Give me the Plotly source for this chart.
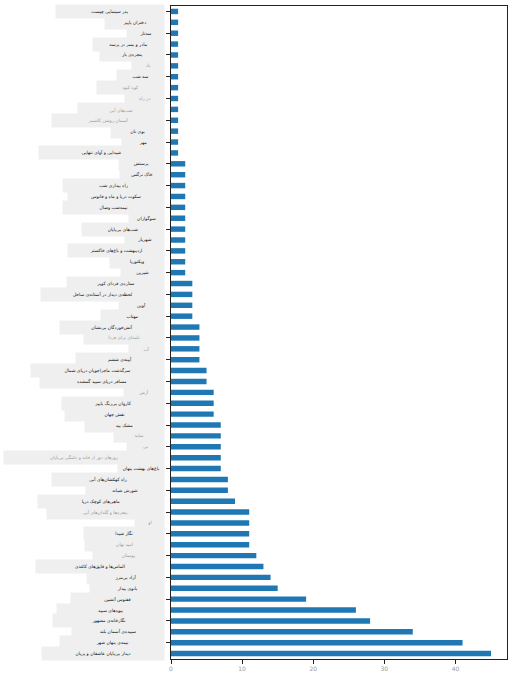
import plotly.graph_objects as go

# Data (top to bottom)
labels = [
    "پدر سینمایی چیست", "دختران پاییز", "سه‌تار", "مادر و پسر در پرسه", "پنجره‌ی باز",
    "باد", "سه شب", "کوه کبود", "در راه", "شب‌های آبی",
    "آسمان روشن کاشمر", "بوی نان", "مهر", "شیدایی و آوای تنهایی", "پرستش",
    "خاک نرگس", "راه بیداری شب", "سکوت دریا و ماه و فانوس", "نیمه‌شب وصال", "سوگواران",
    "شب‌های بی‌پایان", "شهریار", "اردیبهشت و باغ‌های خاکستر", "ویکتوریا", "شیرین",
    "ستاره‌ی فردای کویر", "لحظه‌ی دیدار در آستانه‌ی ساحل", "آوین", "مهتاب", "آتش‌خوردگان بی‌نشان",
    "نامه‌ای برای فردا", "آب", "آیینه‌ی ششم", "سرگذشت ماجراجویان دریای شمال", "مسافر دریای سپید گمشده",
    "آرش", "کاروان بی‌رنگ پاییز", "نقش جهان", "مشک بید", "سایه",
    "نی", "روزهای دور از خانه و دلتنگی بی‌پایان", "باغ‌های بهشت پنهان", "راه کهکشان‌های آبی", "شورش شبانه",
    "ماهی‌های کوچک دریا", "پنجره‌ها و گلدان‌های آبی", "او", "نگار شیدا", "امید نهان",
    "بوستان", "الماس‌ها و قایق‌های کاغذی", "آزاد بی‌مرز", "بانوی بیدار", "ققنوس آتشین",
    "بیوه‌های سپید", "نگارخانه‌ی مشهور", "سپیده‌ی آسمان بلند", "نیمه‌ی پنهان شهر", "دیدار بی‌پایان عاشقان و پریان",
]
counts = [
    1, 1, 1, 1, 1, 1, 1, 1, 1, 1, 1, 1, 1, 1,
    2, 2, 2, 2, 2, 2, 2, 2, 2, 2, 2,
    3, 3, 3, 3,
    4, 4, 4, 4,
    5, 5,
    6, 6, 6,
    7, 7, 7, 7, 7,
    8, 8,
    9,
    11, 11, 11, 11,
    12, 13, 14, 15, 19, 26, 28, 34, 41, 45,
]
x_ticks = [0, 10, 20, 30, 40]

# label box widths (px) and faded labels
box_w = [
    106, 57, 35, 69, 62, 30, 45, 65, 37, 84,
    110, 51, 40, 123, 43, 42, 99, 94, 99, 33,
    80, 37, 94, 52, 41, 95, 121, 43, 61, 102,
    78, 33, 86, 131, 122, 38, 100, 97, 77, 48,
    35, 158, 44, 110, 76, 124, 115, 27, 78, 77,
    69, 126, 75, 72, 91, 105, 109, 90, 102, 120,
]
faded = {5, 7, 8, 9, 10, 30, 31, 35, 39, 40, 41, 46, 47, 49, 50}

fig = go.Figure()
fig.add_trace(go.Bar(x=counts, y=labels, orientation='h', width=0.5,
                     marker=dict(color='#1f77b4', line=dict(width=0))))

for i, (lab, w) in enumerate(zip(labels, box_w)):
    fig.add_annotation(x=0, xref='paper', xanchor='right', xshift=-6,
                       y=lab, yref='y', text=lab, showarrow=False,
                       width=w, height=11, align='center', bgcolor='#efefef',
                       font=dict(family='DejaVu Sans', size=4.5,
                                 color='#9a9a9a' if i in faded else '#111111'))

fig.update_layout(
    width=512, height=683,
    margin=dict(l=171, r=5, t=6, b=24),
    plot_bgcolor='white', paper_bgcolor='white',
    showlegend=False,
)
fig.update_xaxes(range=[0, 47.25], tickvals=x_ticks, ticks='outside', ticklen=4,
                 tickcolor='#222', showgrid=False, zeroline=False, automargin=False,
                 showline=True, linecolor='#222', linewidth=1, mirror=True,
                 tickfont=dict(family='DejaVu Sans', size=6, color='#999'))
fig.update_yaxes(range=[59.5, -0.5], ticks='outside', ticklen=4, tickcolor='#222',
                 showticklabels=False, showgrid=False, zeroline=False, automargin=False,
                 showline=True, linecolor='#222', linewidth=1, mirror=True)

fig.write_html("out.html", config={'displayModeBar': False},
               post_script="document.body.style.margin='0';")
